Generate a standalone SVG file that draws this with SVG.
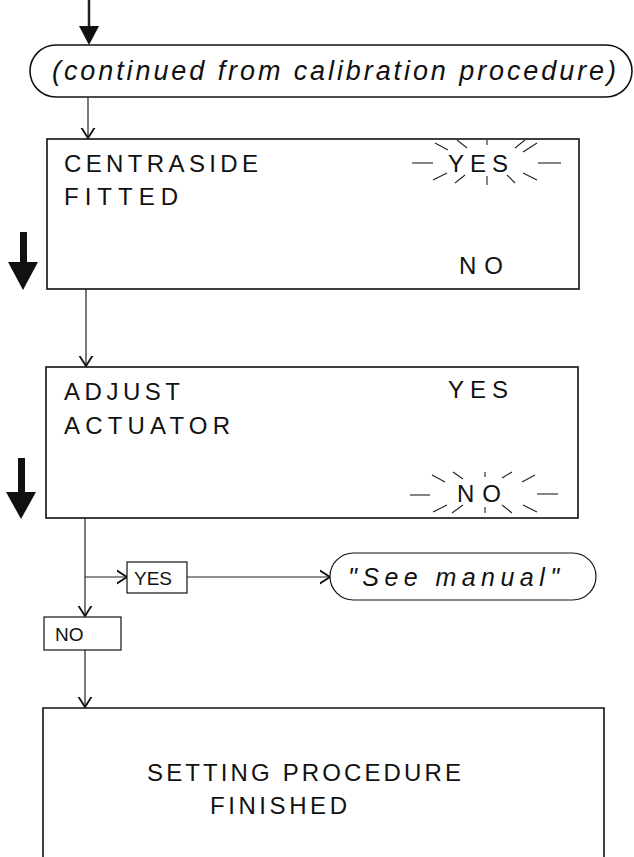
<svg xmlns="http://www.w3.org/2000/svg" width="634" height="857" viewBox="0 0 634 857">
<defs>
<style>
.box{fill:#fff;stroke:#111;stroke-width:1.6}
.ln{fill:none;stroke:#222;stroke-width:1.2}
.ray{fill:none;stroke:#222;stroke-width:1.1}
.t{font-family:"Liberation Sans",Arial,sans-serif;font-size:24px;fill:#111}
.ti{font-family:"Liberation Sans",Arial,sans-serif;font-style:italic;font-size:27px;fill:#111}
.ts{font-family:"Liberation Sans",Arial,sans-serif;font-size:19px;fill:#111}
</style>
<marker id="v" markerUnits="userSpaceOnUse" markerWidth="20" markerHeight="20" viewBox="-10 -10 20 20" refX="0" refY="0" orient="auto">
<path d="M-11,-7 L0,0 L-11,7" fill="none" stroke="#111" stroke-width="1.8"/>
</marker>
</defs>
<rect width="634" height="857" fill="#fff"/>

<g id="connectors">
<line class="ln" x1="89" y1="0" x2="89" y2="28" style="stroke-width:2.5"/>
<polygon points="79,26 99,26 89,45" fill="#111"/>
<line class="ln" x1="88" y1="98" x2="88" y2="138" marker-end="url(#v)"/>
<line class="ln" x1="86" y1="289" x2="86" y2="366" marker-end="url(#v)"/>
<line class="ln" x1="85" y1="518" x2="85" y2="616" marker-end="url(#v)"/>
<line class="ln" x1="85" y1="577" x2="127" y2="577" marker-end="url(#v)"/>
<line class="ln" x1="187" y1="577" x2="330" y2="577" marker-end="url(#v)"/>
<line class="ln" x1="85" y1="650" x2="85" y2="707" marker-end="url(#v)"/>
</g>

<g id="bigarrow1">
<rect x="20" y="232" width="7" height="32" fill="#111"/>
<polygon points="8,262 38,262 23,290" fill="#111"/>
</g>
<g id="bigarrow2">
<rect x="18" y="458" width="7" height="36" fill="#111"/>
<polygon points="6,492 36,492 21,519" fill="#111"/>
</g>

<g id="start">
<rect class="box" x="30" y="45" width="602" height="52" rx="26"/>
<text class="ti" x="52" y="80" textLength="564" lengthAdjust="spacing">(continued from calibration procedure)</text>
</g>

<g id="centraside">
<rect class="box" x="47" y="139" width="532" height="150"/>
<text class="t" x="64" y="172" textLength="194" lengthAdjust="spacing">CENTRASIDE</text>
<text class="t" x="64" y="205" textLength="114" lengthAdjust="spacing">FITTED</text>
<text class="t" x="448" y="172" textLength="60" lengthAdjust="spacing">YES</text>
<g class="ray">
<line x1="412" y1="163" x2="433" y2="163"/>
<line x1="538" y1="163" x2="561" y2="163"/>
<line x1="435" y1="143" x2="448" y2="150"/>
<line x1="457" y1="140" x2="467" y2="148"/>
<line x1="487" y1="140" x2="487" y2="145"/>
<line x1="515" y1="148" x2="525" y2="140"/>
<line x1="523" y1="152" x2="537" y2="143"/>
<line x1="433" y1="180" x2="447" y2="173"/>
<line x1="455" y1="183" x2="465" y2="175"/>
<line x1="487" y1="176" x2="487" y2="185"/>
<line x1="507" y1="175" x2="515" y2="183"/>
<line x1="523" y1="173" x2="537" y2="180"/>
</g>
<text class="t" x="459" y="274" textLength="44" lengthAdjust="spacing">NO</text>
</g>

<g id="adjust">
<rect class="box" x="46" y="367" width="532" height="151"/>
<text class="t" x="64" y="400" textLength="116" lengthAdjust="spacing">ADJUST</text>
<text class="t" x="64" y="434" textLength="166" lengthAdjust="spacing">ACTUATOR</text>
<text class="t" x="448" y="398" textLength="60" lengthAdjust="spacing">YES</text>
<text class="t" x="457" y="502" textLength="44" lengthAdjust="spacing">NO</text>
<g class="ray">
<line x1="410" y1="495" x2="430" y2="495"/>
<line x1="537" y1="494" x2="558" y2="494"/>
<line x1="432" y1="475" x2="445" y2="482"/>
<line x1="453" y1="472" x2="463" y2="479"/>
<line x1="485" y1="472" x2="485" y2="477"/>
<line x1="502" y1="478" x2="512" y2="472"/>
<line x1="522" y1="482" x2="535" y2="475"/>
<line x1="433" y1="512" x2="447" y2="505"/>
<line x1="452" y1="513" x2="463" y2="505"/>
<line x1="485" y1="507" x2="485" y2="513"/>
<line x1="502" y1="505" x2="512" y2="513"/>
<line x1="523" y1="505" x2="537" y2="512"/>
</g>
</g>

<g id="yes">
<rect class="box" x="127" y="562" width="60" height="31" style="stroke-width:1.2"/>
<text class="ts" x="134" y="585">YES</text>
</g>
<g id="manual">
<rect class="box" x="330" y="553" width="266" height="47" rx="23.5" style="stroke-width:1.2"/>
<text class="ti" x="348" y="586" textLength="211" lengthAdjust="spacing" style="font-size:25px">"See manual"</text>
</g>
<g id="no">
<rect class="box" x="44" y="617" width="77" height="33" style="stroke-width:1.2"/>
<text class="ts" x="55" y="641">NO</text>
</g>

<g id="finished">
<path class="box" d="M43,870 L43,708 L604,708 L604,870"/>
<text class="t" x="147" y="781" textLength="314" lengthAdjust="spacing">SETTING PROCEDURE</text>
<text class="t" x="210" y="814" textLength="137" lengthAdjust="spacing">FINISHED</text>
</g>
</svg>
